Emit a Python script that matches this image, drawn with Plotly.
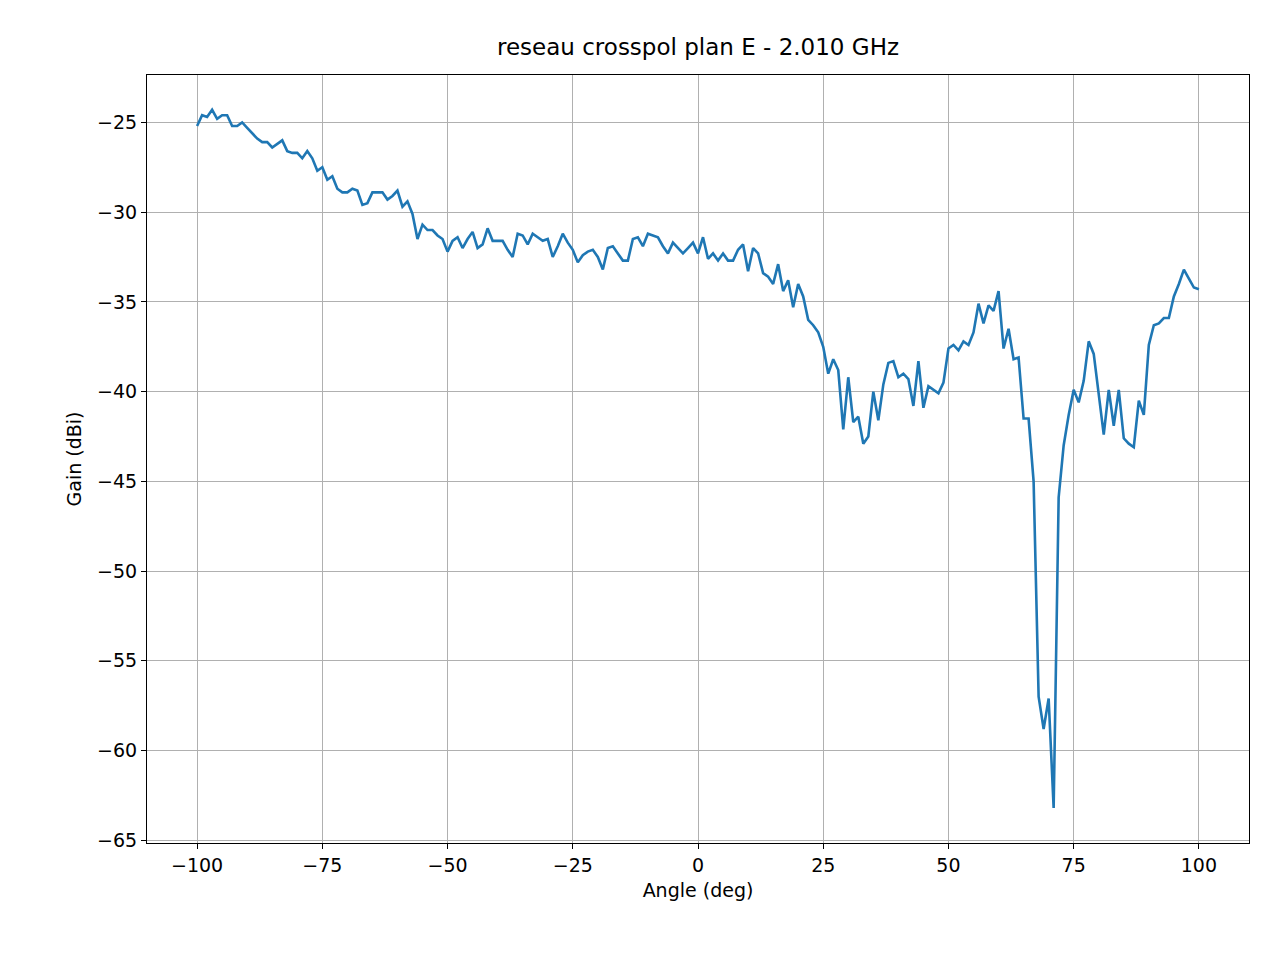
import plotly.graph_objects as go

angles = list(range(-100, 101))
gain = [
    -25.2, -24.6, -24.7, -24.3, -24.8, -24.6, -24.6, -25.2, -25.2, -25.0,
    -25.3, -25.6, -25.9, -26.1, -26.1, -26.4, -26.2, -26.0, -26.6, -26.7,
    -26.7, -27.0, -26.6, -27.0, -27.7, -27.5, -28.2, -28.0, -28.7, -28.9,
    -28.9, -28.7, -28.8, -29.6, -29.5, -28.9, -28.9, -28.9, -29.3, -29.1,
    -28.8, -29.7, -29.4, -30.1, -31.5, -30.7, -31.0, -31.0, -31.3, -31.5,
    -32.2, -31.6, -31.4, -32.0, -31.5, -31.1, -32.0, -31.8, -30.9, -31.6,
    -31.6, -31.6, -32.1, -32.5, -31.2, -31.3, -31.8, -31.2, -31.4, -31.6,
    -31.5, -32.5, -31.9, -31.2, -31.7, -32.1, -32.8, -32.4, -32.2, -32.1,
    -32.5, -33.2, -32.0, -31.9, -32.3, -32.7, -32.7, -31.5, -31.4, -31.9,
    -31.2, -31.3, -31.4, -31.9, -32.3, -31.7, -32.0, -32.3, -32.0, -31.7,
    -32.3, -31.4, -32.6, -32.3, -32.7, -32.3, -32.7, -32.7, -32.1, -31.8,
    -33.3, -32.0, -32.3, -33.4, -33.6, -34.0, -32.9, -34.4, -33.8, -35.3,
    -34.0, -34.7, -36.0, -36.3, -36.7, -37.5, -39.0, -38.2, -38.8, -42.1,
    -39.2, -41.7, -41.4, -42.9, -42.5, -40.0, -41.6, -39.6, -38.4, -38.3,
    -39.2, -39.0, -39.3, -40.8, -38.3, -40.9, -39.7, -39.9, -40.1, -39.5,
    -37.6, -37.4, -37.7, -37.2, -37.4, -36.7, -35.1, -36.2, -35.2, -35.5,
    -34.4, -37.6, -36.5, -38.2, -38.1, -41.5, -41.5, -45.0, -57.0, -58.8,
    -57.1, -63.2, -45.9, -43.0, -41.3, -39.9, -40.6, -39.4, -37.2, -37.9,
    -40.3, -42.4, -39.9, -41.9, -39.9, -42.6, -42.9, -43.1, -40.5, -41.3,
    -37.4, -36.3, -36.2, -35.9, -35.9, -34.7, -34.0, -33.2, -33.7, -34.2,
    -34.3,
]
n = min(len(angles), len(gain))

fig = go.Figure(go.Scatter(x=angles[:n], y=gain[:n], mode="lines",
                           line=dict(color="#1f77b4", width=2.6)))
axis_common = dict(showline=True, linecolor="black", linewidth=1, mirror=True,
                   showgrid=True, gridcolor="#b0b0b0", gridwidth=1,
                   ticks="outside", ticklen=5, tickcolor="black", zeroline=False,
                   tickfont=dict(family="DejaVu Sans", size=19, color="black"))
fig.update_xaxes(range=[-110, 110], tickvals=[-100, -75, -50, -25, 0, 25, 50, 75, 100],
                 ticktext=["−100", "−75", "−50", "−25", "0", "25", "50", "75", "100"],
                 title=dict(text="Angle (deg)", standoff=8,
                            font=dict(family="DejaVu Sans", size=19, color="black")),
                 **axis_common)
fig.update_yaxes(range=[-65.15, -22.36], tickvals=[-65, -60, -55, -50, -45, -40, -35, -30, -25],
                 ticktext=["−65", "−60", "−55", "−50", "−45", "−40", "−35", "−30", "−25"],
                 title=dict(text="Gain (dBi)", standoff=10,
                            font=dict(family="DejaVu Sans", size=19, color="black")),
                 **axis_common)
fig.update_layout(
    width=1280, height=960, plot_bgcolor="white", paper_bgcolor="white",
    margin=dict(l=139, r=39, t=67, b=125), showlegend=False,
    title=dict(text="reseau crosspol plan E - 2.010 GHz", x=(698 - 8) / 1280, xanchor="center",
               y=1 - 39/960, yanchor="middle",
               font=dict(family="DejaVu Sans", size=23, color="black")),
)
fig.write_html("out.html")
